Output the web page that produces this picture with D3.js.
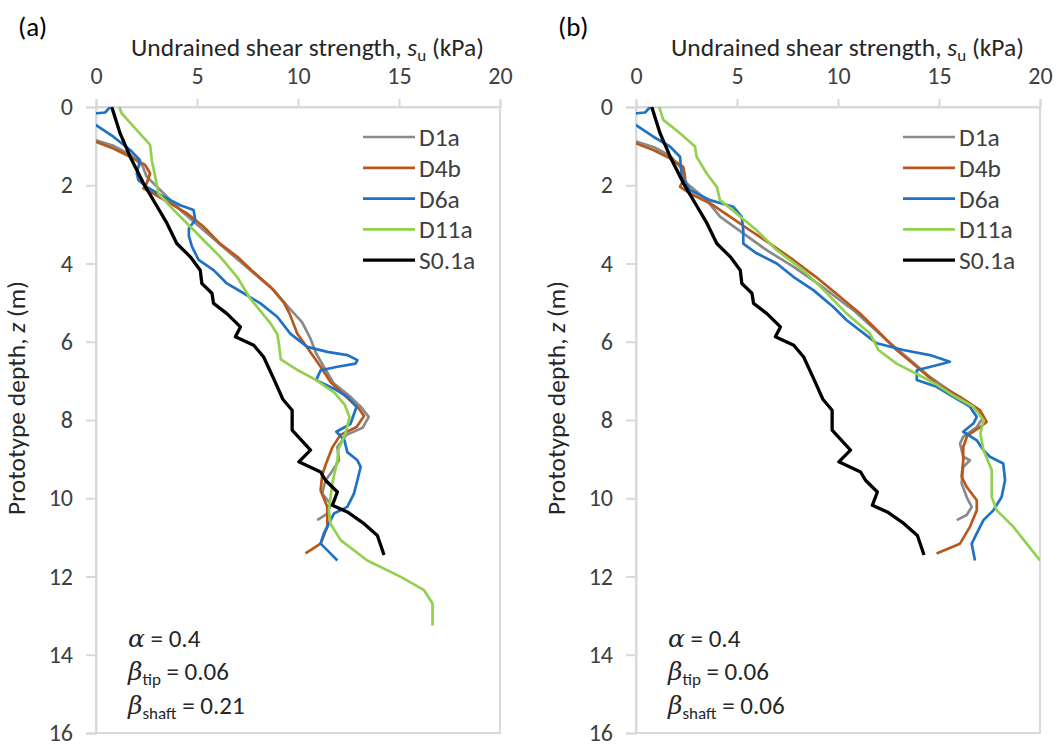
<!DOCTYPE html>
<html>
<head>
<meta charset="utf-8">
<script src="https://cdn.jsdelivr.net/npm/d3@7"></script>
<style>
  body { margin: 0; background: #fff; }
  svg { display: block; }
</style>
</head>
<body>
<div id="chart"></div>
<script>
// axis ticks
var strengthTicks = [0, 5, 10, 15, 20];
var depthTicks = [0, 2, 4, 6, 8, 10, 12, 14, 16];

// legend order + colours
var seriesNames = ["D1a", "D4b", "D6a", "D11a", "S0.1a"];
var seriesColors = ["#8a8a8a", "#b9581d", "#1f72c4", "#92d050", "#000000"];

// [su (kPa), z (m)]
var a_D1a = [[0,0.85],[0.9,1.0],[1.7,1.22],[2.3,1.5],[2.51,1.78],[3.18,2.12],[4.17,2.63],[5.33,3.15],[6.48,3.66],[7.7,4.2],[8.8,4.68],[9.5,5.1],[10.2,5.5],[10.6,5.9],[10.9,6.3],[11.28,6.64],[11.78,7.07],[12.6,7.41],[13.1,7.66],[13.5,7.92],[13.2,8.2],[12.4,8.38],[11.95,8.69],[12.03,9.03],[11.61,9.37],[11.36,9.54],[11.2,9.88],[11.61,10.14],[11.45,10.39],[10.95,10.56]];
var a_D4b = [[0,0.89],[0.86,1.06],[1.69,1.27],[2.43,1.48],[2.68,1.7],[2.51,1.95],[2.35,2.08],[2.84,2.21],[3.67,2.46],[4.5,2.72],[5.33,3.06],[6.15,3.5],[7.0,3.83],[7.7,4.17],[8.64,4.6],[9.3,5.0],[9.6,5.3],[9.96,5.79],[10.54,6.21],[11.12,6.64],[11.61,7.03],[12.4,7.41],[13.0,7.7],[13.27,7.9],[12.9,8.18],[12.1,8.38],[11.7,8.7],[11.4,9.1],[11.2,9.4],[11.12,9.8],[11.45,10.22],[11.45,10.73],[11.12,11.16],[10.37,11.41]];
var a_D6a = [[0.7,0],[0.45,0.14],[0.05,0.16],[-1,0.22],[-1,0.4],[0,0.46],[0.86,0.76],[1.69,1.1],[2.18,1.36],[2.02,1.7],[2.1,1.87],[2.51,2.04],[3.34,2.29],[4.17,2.51],[4.83,2.63],[4.91,2.89],[4.6,3.1],[4.6,3.3],[4.75,3.57],[5.08,3.91],[5.82,4.17],[6.48,4.51],[7.31,4.76],[8.14,5.02],[8.97,5.36],[9.63,5.8],[10.46,6.13],[11.45,6.26],[12.44,6.34],[12.94,6.47],[12.85,6.56],[11.95,6.64],[11.12,6.73],[10.9,6.98],[11.78,7.2],[12.44,7.41],[12.9,7.66],[12.7,7.95],[12.6,8.1],[11.9,8.3],[12.3,8.52],[12.44,8.82],[12.94,9.03],[13.1,9.2],[12.94,9.54],[12.77,9.88],[12.44,10.22],[11.78,10.39],[11.53,10.65],[11.28,10.9],[11.12,11.16],[11.53,11.37],[11.95,11.59]];
var a_D11a = [[1.16,0],[1.27,0.16],[2.02,0.59],[2.68,0.97],[2.76,1.36],[2.93,1.78],[3.09,2.21],[3.84,2.63],[4.67,3.06],[5.49,3.49],[6.15,3.83],[6.98,4.34],[7.64,4.9],[8.64,5.53],[8.97,5.8],[9.05,6.04],[9.15,6.45],[10.0,6.73],[10.9,6.98],[11.8,7.3],[12.3,7.6],[12.55,7.92],[12.35,8.35],[12.0,8.75],[11.95,9.03],[11.7,9.62],[11.53,10.31],[11.61,10.65],[12.11,11.07],[13.43,11.59],[15.09,12.01],[16.24,12.35],[16.66,12.69],[16.66,13.25]];
var S01a = [[0.78,0],[1.19,0.67],[1.69,1.27],[2.35,1.95],[2.93,2.46],[3.51,2.97],[4.0,3.49],[4.67,3.83],[5.16,4.17],[5.24,4.51],[5.74,4.76],[5.82,5.02],[6.48,5.28],[7.15,5.62],[6.9,5.87],[7.81,6.09],[8.3,6.39],[8.8,6.95],[9.25,7.47],[9.71,7.75],[9.71,8.26],[10.62,8.77],[10.04,9.07],[11.12,9.33],[11.36,9.54],[11.95,9.84],[11.7,10.18],[12.44,10.35],[13.27,10.65],[13.93,10.95],[14.26,11.45]];

// [su (kPa), z (m)]
var b_D1a = [[0,0.88],[0.9,1.03],[1.7,1.25],[2.3,1.6],[2.51,1.95],[3.5,2.38],[4.16,2.8],[5.31,3.23],[6.47,3.66],[7.79,4.08],[9.11,4.55],[10.1,4.94],[10.76,5.19],[12.41,5.96],[13.4,6.39],[14.55,6.9],[15.71,7.32],[16.7,7.66],[17.2,7.92],[16.87,8.18],[16.2,8.43],[16.04,8.6],[16.2,8.94],[16.53,9.03],[16.2,9.2],[16.12,9.62],[16.37,9.97],[16.62,10.22],[16.37,10.43],[15.88,10.56]];
var b_D4b = [[0,0.93],[0.86,1.1],[1.68,1.31],[2.34,1.53],[2.43,1.78],[2.18,2.04],[2.67,2.21],[3.66,2.46],[4.65,2.8],[5.64,3.15],[6.63,3.49],[7.79,3.91],[8.9,4.34],[10.1,4.85],[11.09,5.28],[11.92,5.7],[12.9,6.21],[13.9,6.64],[14.88,7.07],[16.04,7.41],[17.03,7.75],[17.36,8.05],[17.03,8.18],[16.4,8.4],[16.2,8.69],[16.2,9.03],[16.12,9.45],[16.37,9.71],[16.87,10.05],[16.87,10.31],[16.53,10.73],[16.04,11.16],[14.88,11.41]];
var b_D6a = [[0.7,0],[0.45,0.14],[0.05,0.16],[-1,0.22],[-1,0.4],[0,0.46],[0.86,0.76],[1.68,1.01],[2.18,1.27],[2.26,1.78],[2.67,2.12],[3.66,2.38],[4.82,2.55],[5.23,2.8],[5.31,3.15],[5.31,3.49],[5.97,3.74],[6.97,4.0],[7.79,4.34],[8.78,4.68],[9.77,5.11],[10.43,5.45],[11.92,6.04],[13.23,6.21],[14.55,6.34],[15.54,6.51],[14.88,6.6],[13.9,6.73],[13.9,6.98],[14.88,7.15],[15.71,7.41],[16.53,7.66],[16.87,7.92],[16.7,8.09],[16.2,8.3],[16.87,8.52],[17.2,8.77],[17.52,8.94],[18.18,9.11],[18.27,9.54],[18.1,9.97],[17.69,10.31],[17.2,10.56],[16.87,10.9],[16.62,11.16],[16.78,11.59]];
var b_D11a = [[1.15,0],[1.35,0.33],[2.18,0.67],[2.92,1.01],[3.0,1.27],[3.5,1.7],[4.0,2.04],[4.16,2.38],[4.98,2.72],[5.97,3.15],[6.97,3.66],[8.28,4.17],[9.3,4.68],[10.43,5.28],[11.58,5.79],[12.0,6.21],[12.9,6.56],[14.0,6.85],[14.9,7.1],[15.8,7.4],[16.7,7.66],[17.2,8.0],[17.05,8.35],[17.2,8.77],[17.61,9.28],[17.61,9.97],[17.86,10.31],[18.68,10.73],[19.34,11.16],[20.0,11.59]];

var FONT = "Carlito, Calibri, Lato, sans-serif";

var svg = d3.select("#chart").append("svg")
    .attr("width", 1061)
    .attr("height", 749);

var plotTop = 107, plotBottom = 733, plotWidth = 404;

var panels = [
  {id: "a", left: 96, label: "(a)", betaShaft: "0.21", series: [a_D1a, a_D4b, a_D6a, a_D11a, S01a]},
  {id: "b", left: 636, label: "(b)", betaShaft: "0.06", series: [b_D1a, b_D4b, b_D6a, b_D11a, S01a]}
];

panels.forEach(function(p) {
  var x = d3.scaleLinear().domain([0, 20]).range([p.left, p.left + plotWidth]);
  var y = d3.scaleLinear().domain([0, 16]).range([plotTop, plotBottom]);

  // clip for lines that run past the axis
  svg.append("clipPath").attr("id", "clip-" + p.id)
    .append("rect")
      .attr("x", p.left).attr("y", plotTop)
      .attr("width", plotWidth).attr("height", plotBottom - plotTop);

  // plot-area frame
  svg.append("rect")
    .attr("x", p.left).attr("y", plotTop)
    .attr("width", plotWidth).attr("height", plotBottom - plotTop)
    .attr("fill", "none")
    .attr("stroke", "#d9d9d9")
    .attr("stroke-width", 2);

  // top axis
  var xAxis = svg.append("g")
      .attr("transform", "translate(0," + plotTop + ")")
      .call(d3.axisTop(x).tickValues(strengthTicks).tickSize(8).tickPadding(15));
  // left axis
  var yAxis = svg.append("g")
      .attr("transform", "translate(" + p.left + ",0)")
      .call(d3.axisLeft(y).tickValues(depthTicks).tickSize(10).tickPadding(13));

  [xAxis, yAxis].forEach(function(ax) {
    ax.selectAll("path, line").attr("stroke", "#d9d9d9").attr("stroke-width", 2);
    ax.selectAll("text")
      .style("font-family", FONT)
      .style("font-size", "24px")
      .attr("fill", "#404040");
  });

  // x title
  var xt = svg.append("text")
    .attr("x", p.left + 35)
    .attr("y", 56)
    .style("font-family", FONT)
    .style("font-size", "25.5px")
    .attr("fill", "#262626");
  xt.append("tspan").text("Undrained shear strength, ");
  xt.append("tspan").attr("font-style", "italic").text("s");
  xt.append("tspan").attr("font-size", "17px").attr("dy", 5).text("u");
  xt.append("tspan").attr("dy", -5).text(" (kPa)");

  // y title
  var yt = svg.append("text")
    .attr("transform", "translate(" + (p.left - 71) + ",398) rotate(-90)")
    .attr("text-anchor", "middle")
    .style("font-family", FONT)
    .style("font-size", "25.5px")
    .attr("fill", "#262626");
  yt.append("tspan").text("Prototype depth, ");
  yt.append("tspan").attr("font-style", "italic").text("z");
  yt.append("tspan").text(" (m)");

  // panel label
  svg.append("text")
    .attr("x", p.left - 78)
    .attr("y", 36)
    .style("font-family", FONT)
    .style("font-size", "27px")
    .attr("fill", "#000")
    .text(p.label);

  // the profiles
  var line = d3.line()
    .x(function(d) { return x(d[0]); })
    .y(function(d) { return y(d[1]); });

  svg.append("g")
      .attr("clip-path", "url(#clip-" + p.id + ")")
    .selectAll("path")
    .data(p.series)
    .enter()
      .append("path")
        .attr("d", line)
        .attr("fill", "none")
        .attr("stroke", function(d, i) { return seriesColors[i]; })
        .attr("stroke-width", function(d, i) { return i == 4 ? 3.3 : 2.7; })
        .attr("stroke-linejoin", "round");

  // legend
  var legend = svg.selectAll(".legend-" + p.id)
    .data(seriesNames)
    .enter()
      .append("g")
        .attr("class", "legend-" + p.id)
        .attr("transform", function(d, i) { return "translate(" + (p.left + 267) + "," + (137 + i * 30.8) + ")"; });

  legend.append("line")
    .attr("x1", 0).attr("x2", 52)
    .attr("stroke", function(d, i) { return seriesColors[i]; })
    .attr("stroke-width", function(d, i) { return i == 4 ? 3.3 : 2.7; });

  legend.append("text")
    .attr("x", 56)
    .attr("y", 9)
    .style("font-family", FONT)
    .style("font-size", "25.5px")
    .attr("fill", "#404040")
    .text(function(d) { return d; });

  // parameter notes
  var ax0 = p.left + 32;
  var n1 = svg.append("text").attr("x", ax0).attr("y", 647)
    .style("font-family", FONT).style("font-size", "25px").attr("fill", "#262626");
  n1.append("tspan").style("font-family", "'DejaVu Serif', serif").attr("font-style", "italic").text("α");
  n1.append("tspan").text(" = 0.4");

  var n2 = svg.append("text").attr("x", ax0).attr("y", 680)
    .style("font-family", FONT).style("font-size", "25px").attr("fill", "#262626");
  n2.append("tspan").style("font-family", "'DejaVu Serif', serif").attr("font-style", "italic").text("β");
  n2.append("tspan").attr("font-size", "17px").attr("dy", 5).text("tip");
  n2.append("tspan").attr("dy", -5).text(" = 0.06");

  var n3 = svg.append("text").attr("x", ax0).attr("y", 714)
    .style("font-family", FONT).style("font-size", "25px").attr("fill", "#262626");
  n3.append("tspan").style("font-family", "'DejaVu Serif', serif").attr("font-style", "italic").text("β");
  n3.append("tspan").attr("font-size", "17px").attr("dy", 5).text("shaft");
  n3.append("tspan").attr("dy", -5).text(" = " + p.betaShaft);
});
</script>
</body>
</html>
